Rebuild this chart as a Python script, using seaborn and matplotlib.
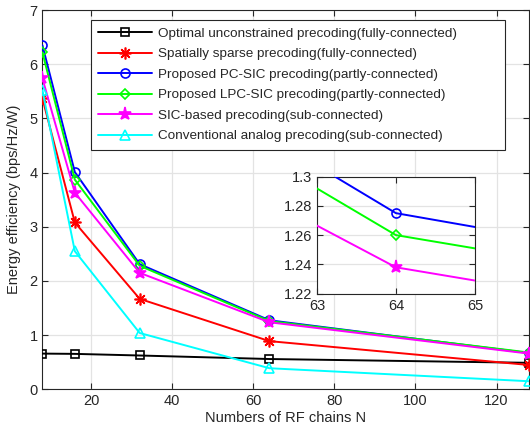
import numpy as np
import pandas as pd
import matplotlib
matplotlib.use("Agg")
import matplotlib.pyplot as plt
import seaborn as sns

# Number of RF chains
rf_chains = [8, 16, 32, 64, 128]

# Energy efficiency (bps/Hz/W) for each precoding scheme
ee_optimal = [0.66, 0.655, 0.625, 0.56, 0.49]
ee_sparse = [5.37, 3.08, 1.67, 0.89, 0.45]
ee_pc_sic = [6.35, 4.01, 2.31, 1.275, 0.67]
ee_lpc_sic = [6.22, 3.87, 2.28, 1.26, 0.68]
ee_sic = [5.74, 3.63, 2.15, 1.238, 0.66]
ee_analog = [5.52, 2.55, 1.04, 0.39, 0.15]

labels = [
    "Optimal unconstrained precoding(fully-connected)",
    "Spatially sparse precoding(fully-connected)",
    "Proposed PC-SIC precoding(partly-connected)",
    "Proposed LPC-SIC precoding(partly-connected)",
    "SIC-based precoding(sub-connected)",
    "Conventional analog precoding(sub-connected)",
]
series = [ee_optimal, ee_sparse, ee_pc_sic, ee_lpc_sic, ee_sic, ee_analog]

x_ticks = [20, 40, 60, 80, 100, 120]
y_ticks = [0, 1, 2, 3, 4, 5, 6, 7]
inset_x_ticks = [63, 64, 65]
inset_y_ticks = [1.22, 1.24, 1.26, 1.28, 1.30]
inset_y_labels = ["1.22", "1.24", "1.26", "1.28", "1.3"]

styles = [
    dict(color="#000000", marker="s", ms=5.5, mfc="none"),
    dict(color="#ff0000", marker=(8, 2, 0), ms=8.5, mfc="none"),
    dict(color="#0000ff", marker="o", ms=6.5, mfc="none"),
    dict(color="#00ff00", marker="D", ms=5.5, mfc="none"),
    dict(color="#ff00ff", marker="*", ms=9.5, mfc="#ff00ff"),
    dict(color="#00ffff", marker="^", ms=7, mfc="none"),
]

sns.set_theme(style="ticks")
plt.rcParams["font.family"] = ["Liberation Sans", "DejaVu Sans"]

fig = plt.figure(figsize=(5.30, 4.37), dpi=100)
ax = fig.add_axes([0.080, 0.109, 0.918, 0.868])

frame = pd.DataFrame({"N": rf_chains})
for lab, vals, st in zip(labels, series, styles):
    frame["EE"] = vals
    sns.lineplot(data=frame, x="N", y="EE", ax=ax, label=lab,
                 color=st["color"], marker=st["marker"], markersize=st["ms"],
                 markerfacecolor=st["mfc"], markeredgecolor=st["color"],
                 markeredgewidth=1.2, linewidth=1.4, zorder=3)

ax.set_xlim(8, 128)
ax.set_ylim(0, 7)
ax.set_xticks(x_ticks)
ax.set_yticks(y_ticks)
ax.grid(True, color="#e3e3e3", linewidth=0.9, zorder=0)
ax.set_axisbelow(True)
ax.tick_params(direction="in", top=True, right=True, length=4,
               labelsize=10.5, colors="#262626", width=0.8)
for sp in ax.spines.values():
    sp.set_color("#262626")
    sp.set_linewidth(0.8)
ax.set_xlabel("Numbers of RF chains N", fontsize=10.5, color="#262626", labelpad=2)
ax.set_ylabel("Energy efficiency (bps/Hz/W)", fontsize=10.5, color="#262626", labelpad=6)

leg = ax.legend(loc="upper left", bbox_to_anchor=(0.0997, 0.628, 0.8513, 0.346),
                mode="expand", borderaxespad=0,
                fontsize=9.7, handlelength=4.0, handletextpad=0.45, labelspacing=0.6,
                borderpad=0.55, frameon=True, fancybox=False, framealpha=1,
                edgecolor="#262626")
leg.get_frame().set_linewidth(0.8)
leg.set_zorder(5)

# Zoomed view around N = 64
axins = fig.add_axes([0.598, 0.328, 0.298, 0.268])
axins.set_facecolor("white")
for lab, vals, st in zip(labels, series, styles):
    if st["color"] not in ("#0000ff", "#00ff00", "#ff00ff"):
        continue
    frame["EE"] = vals
    sns.lineplot(data=frame, x="N", y="EE", ax=axins, legend=False,
                 color=st["color"], marker=st["marker"], markersize=st["ms"],
                 markerfacecolor=st["mfc"], markeredgecolor=st["color"],
                 markeredgewidth=1.2, linewidth=1.4, zorder=3)
axins.set_xlim(63, 65)
axins.set_ylim(1.22, 1.30)
axins.set_xticks(inset_x_ticks)
axins.set_yticks(inset_y_ticks)
axins.set_yticklabels(inset_y_labels)
axins.set_xlabel("")
axins.set_ylabel("")
axins.grid(True, color="#e3e3e3", linewidth=0.9, zorder=0)
axins.set_axisbelow(True)
axins.tick_params(direction="in", top=True, right=True, length=4,
                  labelsize=10.5, colors="#262626", width=0.8)
for sp in axins.spines.values():
    sp.set_color("#262626")
    sp.set_linewidth(0.8)

fig.savefig("out.png", dpi=100)
